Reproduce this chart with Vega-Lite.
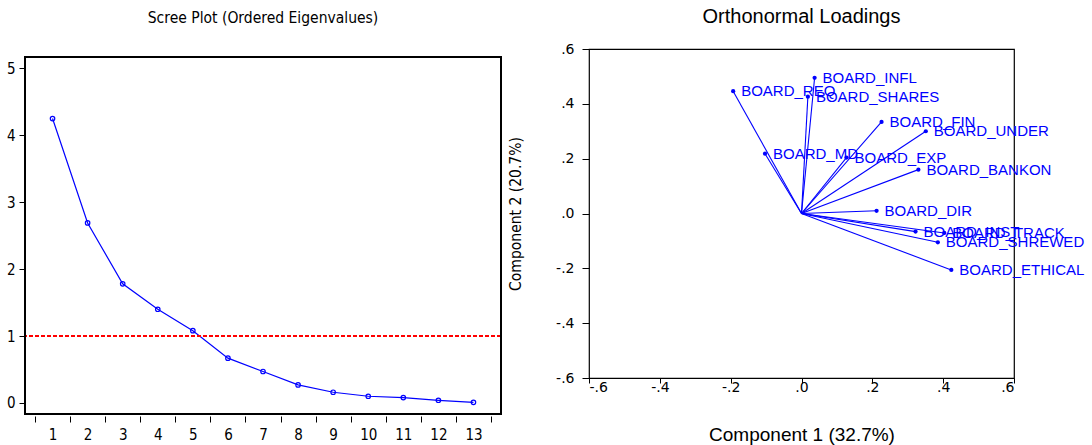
{
  "$schema": "https://vega.github.io/schema/vega-lite/v6.json",
  "background": "white",
  "padding": {"left": 6, "top": 6, "right": 0, "bottom": 0},
  "spacing": 5,
  "config": {
    "view": {"stroke": "#000000", "strokeWidth": 1.2},
    "axis": {"domain": false, "grid": false, "tickColor": "#000000", "labelColor": "#000000", "titleColor": "#000000"}
  },
  "hconcat": [
    {
      "width": 476,
      "height": 365,
      "view": {"stroke": null},
      "title": {"text": "Scree Plot (Ordered Eigenvalues)", "font": "DejaVu Sans Condensed", "fontSize": 15.5, "fontWeight": "normal", "baseline": "bottom", "offset": 8, "anchor": "middle", "color": "#000000"},
      "data": {"values": [
        {"k": 1, "ev": 4.25}, {"k": 2, "ev": 2.69}, {"k": 3, "ev": 1.78}, {"k": 4, "ev": 1.40},
        {"k": 5, "ev": 1.08}, {"k": 6, "ev": 0.67}, {"k": 7, "ev": 0.47}, {"k": 8, "ev": 0.27},
        {"k": 9, "ev": 0.16}, {"k": 10, "ev": 0.10}, {"k": 11, "ev": 0.08}, {"k": 12, "ev": 0.04},
        {"k": 13, "ev": 0.01}
      ]},
      "layer": [
        {
          "mark": {"type": "line", "color": "#0000ff", "strokeWidth": 1.2},
          "encoding": {
            "x": {"field": "k", "type": "ordinal", "bandPosition": 0.5,
              "scale": {"type": "band", "paddingInner": 0, "paddingOuter": 0.285},
              "axis": {"title": null, "labelAngle": 0, "tickBand": "extent", "offset": 2, "tickSize": 6, "labelPadding": 5, "labelFont": "DejaVu Sans Condensed", "labelFontSize": 15}},
            "y": {"field": "ev", "type": "quantitative",
              "scale": {"domain": [-0.165, 5.2896], "nice": false, "zero": false},
              "axis": {"title": null, "values": [0, 1, 2, 3, 4, 5], "format": "d", "tickSize": 6, "labelPadding": 4, "labelFont": "DejaVu Sans Condensed", "labelFontSize": 15}}
          }
        },
        {
          "mark": {"type": "point", "filled": false, "color": "#0000ff", "size": 20, "strokeWidth": 1.2, "opacity": 1},
          "encoding": {
            "x": {"field": "k", "type": "ordinal", "bandPosition": 0.5},
            "y": {"field": "ev", "type": "quantitative"}
          }
        },
        {
          "mark": {"type": "rule", "color": "#ff0000", "strokeDash": [4, 2], "strokeWidth": 1},
          "encoding": {"y": {"datum": 1, "type": "quantitative"}}
        },
        {
          "mark": {"type": "rect", "fillOpacity": 0, "fill": "white", "stroke": "#000000", "strokeWidth": 1.2},
          "encoding": {"y": {"datum": 5.17, "type": "quantitative"}, "y2": {"datum": -0.165}}
        }
      ]
    },
    {
      "width": 425,
      "height": 329,
      "title": {"text": "Orthonormal Loadings", "font": "Liberation Sans", "fontSize": 20, "fontWeight": "normal", "baseline": "bottom", "offset": -5, "anchor": "middle", "color": "#000000"},
      "data": {"values": [
        {"name": "BOARD_INFL", "pc1": 0.037, "pc2": 0.495},
        {"name": "BOARD_REQ", "pc1": -0.193, "pc2": 0.446},
        {"name": "BOARD_SHARES", "pc1": 0.018, "pc2": 0.426},
        {"name": "BOARD_FIN", "pc1": 0.226, "pc2": 0.334},
        {"name": "BOARD_UNDER", "pc1": 0.351, "pc2": 0.300},
        {"name": "BOARD_MD", "pc1": -0.103, "pc2": 0.218},
        {"name": "BOARD_EXP", "pc1": 0.127, "pc2": 0.204},
        {"name": "BOARD_BANKON", "pc1": 0.330, "pc2": 0.160},
        {"name": "BOARD_DIR", "pc1": 0.212, "pc2": 0.010},
        {"name": "BOARD_INST", "pc1": 0.322, "pc2": -0.066},
        {"name": "BOARD_TRACK", "pc1": 0.403, "pc2": -0.071},
        {"name": "BOARD_SHREWED", "pc1": 0.385, "pc2": -0.105},
        {"name": "BOARD_ETHICAL", "pc1": 0.423, "pc2": -0.206}
      ]},
      "layer": [
        {
          "mark": {"type": "point", "filled": true, "color": "#0000ff", "size": 18, "opacity": 1},
          "encoding": {
            "x": {"field": "pc1", "type": "quantitative",
              "scale": {"domain": [-0.6, 0.6], "nice": false, "zero": false},
              "axis": {"title": "Component 1 (32.7%)", "values": [-0.6, -0.4, -0.2, 0, 0.2, 0.4, 0.6],
                "labelExpr": "(datum.value < -0.001 ? '-' : '') + replace(format(abs(datum.value), '.1f'), '0.', '.')",
                "tickSize": 5, "labelPadding": -3, "labelFont": "DejaVu Sans", "labelFontSize": 14,
                "titleFont": "Liberation Sans", "titleFontSize": 19, "titleFontWeight": "normal", "titlePadding": 31}},
            "y": {"field": "pc2", "type": "quantitative",
              "scale": {"domain": [-0.6, 0.6], "nice": false, "zero": false},
              "axis": {"title": "Component 2 (20.7%)", "values": [-0.6, -0.4, -0.2, 0, 0.2, 0.4, 0.6],
                "labelExpr": "(datum.value < -0.001 ? '-' : '') + replace(format(abs(datum.value), '.1f'), '0.', '.')",
                "tickSize": 7, "labelPadding": 8, "labelFont": "DejaVu Sans", "labelFontSize": 14,
                "titleFont": "DejaVu Sans Condensed", "titleFontSize": 15.5, "titleFontWeight": "normal", "titlePadding": 32}}
          }
        },
        {
          "mark": {"type": "rule", "color": "#0000ff", "strokeWidth": 1.1},
          "encoding": {
            "x": {"field": "pc1", "type": "quantitative"},
            "y": {"field": "pc2", "type": "quantitative"},
            "x2": {"datum": 0},
            "y2": {"datum": 0}
          }
        },
        {
          "mark": {"type": "text", "color": "#0000ff", "align": "left", "baseline": "middle", "dx": 8, "font": "Liberation Sans", "fontSize": 15},
          "encoding": {
            "x": {"field": "pc1", "type": "quantitative"},
            "y": {"field": "pc2", "type": "quantitative"},
            "text": {"field": "name"}
          }
        }
      ]
    }
  ]
}
